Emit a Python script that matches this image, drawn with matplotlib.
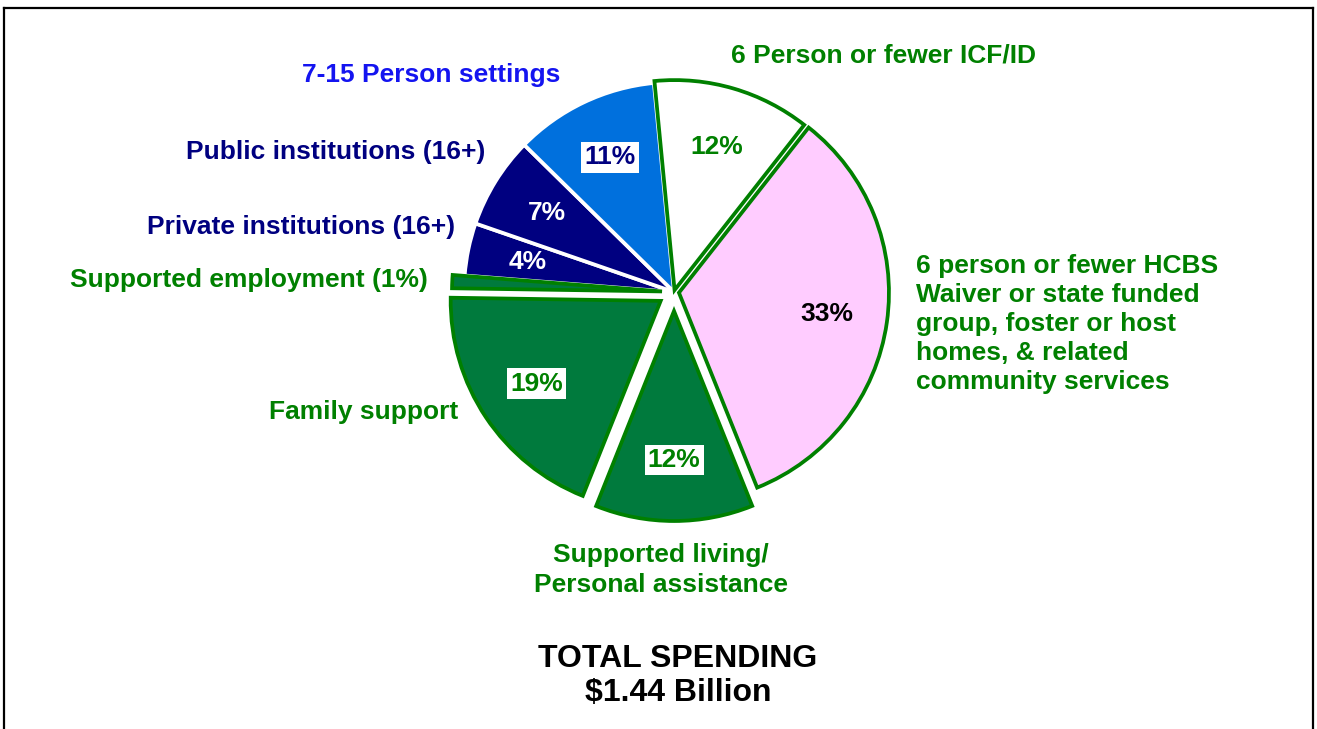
import matplotlib
matplotlib.use("Agg")
import matplotlib.pyplot as plt
from matplotlib.lines import Line2D

categories = ["6 Person or fewer ICF/ID",
              "6 person or fewer HCBS\nWaiver or state funded\ngroup, foster or host\nhomes, & related\ncommunity services",
              "Supported living/\nPersonal assistance",
              "Family support",
              "Supported employment (1%)",
              "Private institutions (16+)",
              "Public institutions (16+)",
              "7-15 Person settings"]
values = [12, 33, 12, 19, 1, 4, 7, 11]
total_title = "TOTAL SPENDING\n$1.44 Billion"

W, H = 1317, 729
fig = plt.figure(figsize=(W / 100, H / 100), dpi=100)
ax = fig.add_axes([0, 0, 1, 1])

GREEN_FILL = "#007A3D"
GREEN_EDGE = "#008000"
NAVY = "#000080"
BLUE = "#0070DD"
fills = ["#FFFFFF", "#FFCCFF", GREEN_FILL, GREEN_FILL, GREEN_FILL, NAVY, NAVY, BLUE]
edges = [GREEN_EDGE, GREEN_EDGE, GREEN_EDGE, GREEN_EDGE, GREEN_EDGE, "white", "white", "white"]
# explode distances in pixels (pie uses absolute data units)
explode = [2, 5, 19, 16, 12, 0, 0, 0]

cx, cy, R = 674, H - 292, 210
tot = sum(values)
FONT = "Liberation Sans"

wedges, texts, autotexts = ax.pie(
    values, colors=fills, explode=explode, startangle=95.5, counterclock=False,
    center=(cx, cy), radius=R, autopct=lambda p: f"{round(p * tot / 100):.0f}%",
    pctdistance=0.71, frame=True,
    textprops=dict(fontsize=19, fontweight="bold", family=FONT))
for w, ec in zip(wedges, edges):
    w.set_edgecolor(ec)
    w.set_linewidth(2.7)
    w.set_joinstyle("miter")
    if ec == GREEN_EDGE:
        w.set_zorder(1.5)

pct_colors = [GREEN_EDGE, "black", GREEN_EDGE, GREEN_EDGE, GREEN_EDGE, "white", "white", NAVY]
pct_box = [False, False, True, True, False, False, False, True]
for t, c, b in zip(autotexts, pct_colors, pct_box):
    t.set_color(c)
    if b:
        t.set_bbox(dict(boxstyle="square,pad=0.12", fc="white", ec="none"))
autotexts[4].set_visible(False)

ax.set_xlim(0, W)
ax.set_ylim(0, H)
ax.set_aspect("equal")
ax.axis("off")

lab = dict(fontsize=19, fontweight="bold", family=FONT)
ax.text(731, H - 55, categories[0], color=GREEN_EDGE, ha="left", va="center", **lab)
ax.text(916, H - 324, categories[1], color=GREEN_EDGE, ha="left", va="center", linespacing=1.26, **lab)
ax.text(661, H - 570, categories[2], color=GREEN_EDGE, ha="center", va="center", multialignment="center", linespacing=1.28, **lab)
ax.text(458, H - 412, categories[3], color=GREEN_EDGE, ha="right", va="center", **lab)
ax.text(428, H - 280, categories[4], color=GREEN_EDGE, ha="right", va="center", **lab)
ax.text(455, H - 227, categories[5], color=NAVY, ha="right", va="center", **lab)
ax.text(485, H - 152, categories[6], color=NAVY, ha="right", va="center", **lab)
ax.text(560, H - 75, categories[7], color="#1414F0", ha="right", va="center", **lab)

ax.text(678, H - 676, total_title, color="black", ha="center", va="center", multialignment="center",
        fontsize=23, fontweight="bold", family=FONT, linespacing=1.2)

# frame
for xs, ys in [([4, 4], [0, H - 8]), ([4, 1313], [H - 8, H - 8]), ([1313, 1313], [H - 8, 0])]:
    ax.add_line(Line2D(xs, ys, color="black", lw=1.6, solid_capstyle="projecting"))

fig.savefig("out.png", dpi=100)
